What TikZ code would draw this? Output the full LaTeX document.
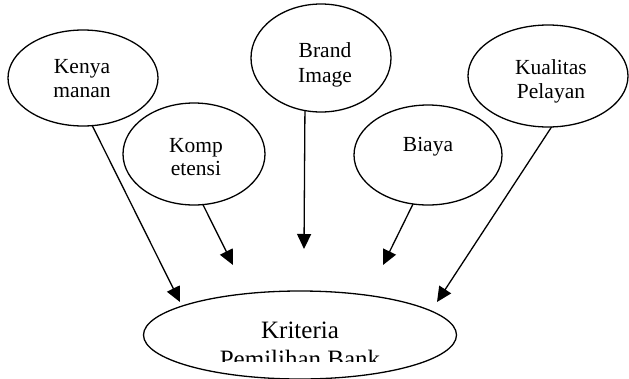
\documentclass[tikz,border=0pt]{standalone}
\usepackage{fontspec}
\setmainfont{Liberation Serif}
\usetikzlibrary{shapes.geometric,arrows.meta}
\begin{document}
\begin{tikzpicture}[x=1pt,y=-1pt,
  oval/.style={draw, ellipse, line width=1.3pt, inner sep=0pt, outer sep=0pt},
  lbl/.style={anchor=base, inner sep=0pt, font=\fontsize{21.5}{24}\selectfont},
  big/.style={anchor=base, inner sep=0pt, font=\fontsize{25}{28}\selectfont},
  link/.style={line width=1.3pt, -{Triangle[length=15pt,width=14pt]}}]
\useasboundingbox (0,0) rectangle (629,378);

% factor ellipses
\node[oval, minimum width=150pt, minimum height=96pt] (kenya) at (83,78) {};
\node[oval, minimum width=142pt, minimum height=102pt] (komp) at (194,154) {};
\node[oval, minimum width=140pt, minimum height=108pt] (brand) at (321,58) {};
\node[oval, minimum width=148pt, minimum height=100pt] (biaya) at (428,155) {};
\node[oval, minimum width=160pt, minimum height=102pt] (kualitas) at (548,76) {};
\node[oval, minimum width=313pt, minimum height=88pt] (kriteria) at (300,335) {};

% labels
\node[lbl] (tKenyaA) at (82,73) {Kenya};
\node[lbl] (tKenyaB) at (82,97) {manan};
\node[lbl] (tKompA) at (196,152) {Komp};
\node[lbl] (tKompB) at (196,175) {etensi};
\node[lbl] (tBrandA) at (325,57) {Brand};
\node[lbl] (tBrandB) at (325,82) {Image};
\node[lbl] (tBiaya) at (428,151) {Biaya};
\node[lbl] (tKualA) at (551,74) {Kualitas};
\node[lbl] (tKualB) at (551,98) {Pelayan};
\node[big] (tKritA) at (300,338) {Kriteria};
\begin{scope}
  \clip (143,300) rectangle (460,361);
  \node[big] (tKritB) at (300,367) {Pemilihan Bank};
\end{scope}

% arrow tips
\coordinate (eKenya) at (180,302);
\coordinate (eKomp) at (233,265);
\coordinate (eBrand) at (304,249);
\coordinate (eBiaya) at (383,265);
\coordinate (eKual) at (437,302);

\draw[link] (kenya.-79.6) -- (eKenya);
\draw[link] (komp.-80) -- (eKomp);
\draw[link] (brand.-107) -- (eBrand);
\draw[link] (biaya.-107.7) -- (eBiaya);
\draw[link] (kualitas.-86.6) -- (eKual);
\end{tikzpicture}
\end{document}
